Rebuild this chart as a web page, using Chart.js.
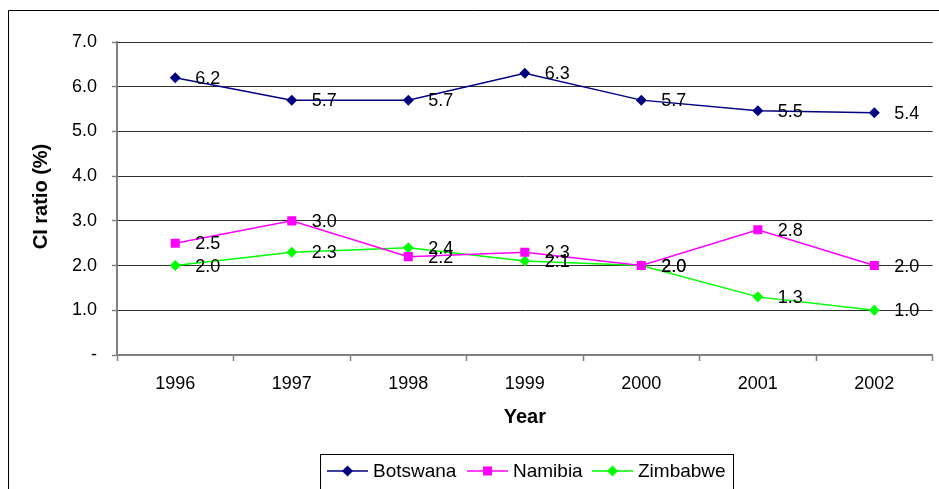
<!DOCTYPE html>
<html><head><meta charset="utf-8">
<script src="https://cdn.jsdelivr.net/npm/chart.js@4"></script>
<style>html,body{margin:0;padding:0;background:#fff}#wrap{width:939px;height:489px;position:relative}</style>
</head><body><div id="wrap"><canvas id="c" width="939" height="489"></canvas></div>
<script>
const years = ['1996','1997','1998','1999','2000','2001','2002'];
const botswana = [6.2, 5.7, 5.7, 6.3, 5.7, 5.46, 5.42];
const namibia = [2.5, 3.0, 2.2, 2.3, 2.0, 2.8, 2.0];
const zimbabwe = [2.0, 2.3, 2.4, 2.1, 2.0, 1.3, 1.0];
const seriesNames = ['Botswana', 'Namibia', 'Zimbabwe'];
const yAxisTitle = 'CI ratio (%)';
const xAxisTitle = 'Year';

const FONT = 'Arial, "Liberation Sans", sans-serif';

const frame = {
  id: 'frame',
  beforeDraw(chart) {
    const ctx = chart.ctx;
    ctx.save();
    ctx.fillStyle = '#fff';
    ctx.fillRect(0, 0, chart.width, chart.height);
    ctx.strokeStyle = '#000';
    ctx.lineWidth = 1;
    ctx.beginPath();
    ctx.moveTo(8.5, chart.height);
    ctx.lineTo(8.5, 10.5);
    ctx.lineTo(chart.width, 10.5);
    ctx.stroke();
    ctx.restore();
  }
};

const labels = {
  id: 'labels',
  afterDatasetsDraw(chart) {
    const ctx = chart.ctx;
    ctx.save();
    ctx.font = '18px ' + FONT;
    ctx.fillStyle = '#000';
    ctx.textAlign = 'left';
    ctx.textBaseline = 'middle';
    chart.data.datasets.forEach((ds, di) => {
      const meta = chart.getDatasetMeta(di);
      meta.data.forEach((pt, i) => {
        ctx.fillText(ds.data[i].toFixed(1), pt.x + 20, pt.y + 1);
      });
    });
    ctx.restore();
  }
};

function marker(ctx, style, x, y, color) {
  ctx.fillStyle = color;
  ctx.beginPath();
  if (style === 'rect') {
    ctx.rect(x - 4.5, y - 4.5, 9, 9);
  } else {
    ctx.moveTo(x, y - 5.5); ctx.lineTo(x + 5.5, y); ctx.lineTo(x, y + 5.5); ctx.lineTo(x - 5.5, y); ctx.closePath();
  }
  ctx.fill();
}

const extras = {
  id: 'extras',
  afterDraw(chart) {
    const ctx = chart.ctx;
    ctx.save();
    ctx.fillStyle = '#000';
    ctx.font = 'bold 20px ' + FONT;
    ctx.textAlign = 'center';
    ctx.textBaseline = 'middle';
    const ca = chart.chartArea;
    ctx.fillText(xAxisTitle, (ca.left + ca.right) / 2, 417);
    ctx.save();
    ctx.translate(41, (ca.top + ca.bottom) / 2 - 2);
    ctx.rotate(-Math.PI / 2);
    ctx.fillText(yAxisTitle, 0, 0);
    ctx.restore();
    // legend
    ctx.strokeStyle = '#000';
    ctx.lineWidth = 1;
    ctx.strokeRect(320.5, 454.5, 413, 40);
    const ly = 471;
    const items = [[327, 373], [467, 513], [592, 638]];
    chart.data.datasets.forEach((ds, di) => {
      const [lx, tx] = items[di];
      ctx.strokeStyle = ds.borderColor;
      ctx.lineWidth = 1.5;
      ctx.beginPath();
      ctx.moveTo(lx, ly); ctx.lineTo(lx + 41, ly);
      ctx.stroke();
      marker(ctx, ds.pointStyle, lx + 20.5, ly, ds.borderColor);
      ctx.fillStyle = '#000';
      ctx.font = '19px ' + FONT;
      ctx.textAlign = 'left';
      ctx.textBaseline = 'middle';
      ctx.fillText(ds.label, tx, ly + 1);
    });
    ctx.restore();
  }
};

new Chart(document.getElementById('c'), {
  type: 'line',
  data: {
    labels: years,
    datasets: [
      { label: seriesNames[0], data: botswana, borderColor: '#000080', backgroundColor: '#000080', pointStyle: 'rectRot', pointRadius: 5.5, pointHoverRadius: 5.5, borderWidth: 1.5, pointBorderWidth: 0 },
      { label: seriesNames[1], data: namibia, borderColor: '#FF00FF', backgroundColor: '#FF00FF', pointStyle: 'rect', pointRadius: 6.4, pointHoverRadius: 6.4, borderWidth: 1.5, pointBorderWidth: 0 },
      { label: seriesNames[2], data: zimbabwe, borderColor: '#00FF00', backgroundColor: '#00FF00', pointStyle: 'rectRot', pointRadius: 5.5, pointHoverRadius: 5.5, borderWidth: 1.5, pointBorderWidth: 0 }
    ]
  },
  options: {
    responsive: false,
    animation: false,
    events: [],
    layout: { padding: { left: 0, top: 42, right: 2, bottom: 0 } },
    plugins: { legend: { display: false }, tooltip: { enabled: false } },
    scales: {
      x: {
        type: 'category',
        offset: true,
        grid: { offset: true, drawOnChartArea: false, tickLength: 6, tickColor: '#808080', tickWidth: 1.5 },
        border: { color: '#808080', width: 2 },
        ticks: { color: '#000', font: { family: FONT, size: 18 }, padding: 12, maxRotation: 0 },
        afterFit(s) { s.height = 134; }
      },
      y: {
        min: 0, max: 7,
        grid: { color: '#303030', lineWidth: 1, tickLength: 5, tickColor: '#808080', tickWidth: 1.5 },
        border: { color: '#808080', width: 2 },
        ticks: { stepSize: 1, color: '#000', font: { family: FONT, size: 18 }, padding: 15,
          callback: v => v === 0 ? '-' : v.toFixed(1) },
        afterFit(s) { s.width = 117; }
      }
    }
  },
  plugins: [frame, labels, extras]
});
</script>
</body></html>
